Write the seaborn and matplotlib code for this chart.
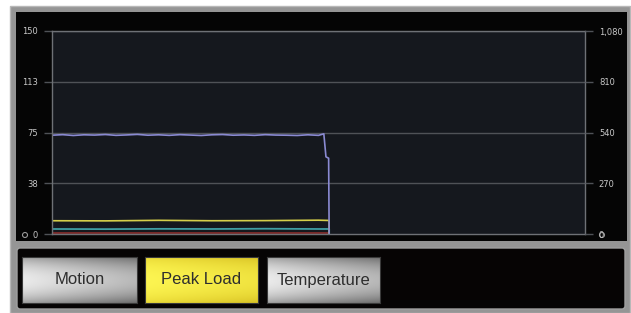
import numpy as np
import pandas as pd
import matplotlib
matplotlib.use('Agg')
import matplotlib.pyplot as plt
import seaborn as sns
from matplotlib.patches import Rectangle, FancyBboxPatch, Circle

# ---- data (x = % of trace window) ----
t_load = [0, 2, 4, 6, 8, 10, 12, 14, 16, 18, 20, 22, 24, 26, 28, 30, 32, 34, 36, 38,
          40, 42, 44, 46, 48, 50, 51.0, 51.4, 51.9, 52.0]
peak_load = [73.0, 73.4, 72.8, 73.3, 73.1, 73.5, 72.9, 73.2, 73.6, 73.0, 73.3, 72.9, 73.4,
             73.1, 72.8, 73.3, 73.5, 73.0, 73.2, 72.9, 73.4, 73.1, 73.0, 72.8, 73.3, 72.9,
             74.0, 57.0, 56.0, 0.0]
t_aux = [0, 10, 20, 30, 40, 50, 52.0, 52.0]
yellow_trace = [9.8, 9.7, 10.1, 9.8, 9.9, 10.2, 10.0, 0.0]
teal_trace = [3.7, 3.6, 3.8, 3.7, 3.9, 3.7, 3.7, 0.0]
red_trace = [0.7, 0.7, 0.7, 0.7, 0.7, 0.7, 0.7, 0.0]

left_ticks = [0, 37.5, 75, 112.5, 150]
left_labels = ['0', '38', '75', '113', '150']
right_ticks = [0, 270, 540, 810, 1080]
right_labels = ['0', '270', '540', '810', '1,080']
buttons = ['Motion', 'Peak Load', 'Temperature']

W, H = 631, 313
fig = plt.figure(figsize=(W / 100, H / 100), dpi=100)
fig.patch.set_facecolor('white')


def px(x0, y0, x1, y1):
    # pixel box -> figure fraction rect
    return [x0 / W, 1 - y1 / H, (x1 - x0) / W, (y1 - y0) / H]


# frame and panels
bg = fig.add_axes([0, 0, 1, 1])
bg.set_xlim(0, W)
bg.set_ylim(H, 0)
bg.axis('off')
bg.add_patch(Rectangle((10, 6), 620, 307, facecolor='#959595', edgecolor='#b8b8b8', lw=1))
bg.add_patch(Rectangle((16, 12), 611, 229, facecolor='#050505', edgecolor='none'))
bg.add_patch(FancyBboxPatch((17, 248), 608, 61, boxstyle='round,pad=0,rounding_size=3',
                            facecolor='#060404', edgecolor='#a0a0a0', lw=1))
for cx in (25, 602):
    bg.add_patch(Circle((cx, 235), 2.5, facecolor='none', edgecolor='#9a9a9a', lw=0.8))

# main chart
ax = fig.add_axes(px(52, 31, 585, 234))
ax.set_facecolor('#15181e')
grid_c = '#4f5257'
for v in left_ticks[1:]:
    ax.axhline(v, color=grid_c, lw=1, zorder=1)

sns.lineplot(x=t_aux, y=red_trace, ax=ax, color='#7a2a2a', lw=1.4, sort=False, estimator=None)
sns.lineplot(x=t_aux, y=teal_trace, ax=ax, color='#3f9ea3', lw=1.3, sort=False, estimator=None)
sns.lineplot(x=t_aux, y=yellow_trace, ax=ax, color='#d6cf4a', lw=1.2, sort=False, estimator=None)
sns.lineplot(x=t_load, y=peak_load, ax=ax, color='#8a8ad2', lw=1.2, sort=False, estimator=None)

ax.set_xlim(0, 100)
ax.set_ylim(0, 150)
ax.set_xticks([])
ax.set_yticks(left_ticks)
ax.set_yticklabels(left_labels)
ax.tick_params(axis='y', colors=grid_c, labelcolor='#c8c8c8', labelsize=6,
               length=6, width=1, pad=4)
for s in ax.spines.values():
    s.set_color('#6e7176')
    s.set_linewidth(1)

ax2 = ax.twinx()
ax2.set_ylim(0, 1080)
ax2.set_yticks(right_ticks)
ax2.set_yticklabels(right_labels)
ax2.tick_params(axis='y', colors=grid_c, labelcolor='#c8c8c8', labelsize=6,
                length=6, width=1, pad=4)
for s in ax2.spines.values():
    s.set_visible(False)

# buttons
btn_boxes = [(22, 257, 137, 303), (145, 257, 258, 303), (267, 257, 380, 303)]
gy = np.linspace(0, 1, 50)[:, None]
gx = np.linspace(0, 1, 100)[None, :]
shade = 1 - 0.3 * (2 * gy - 1) ** 2 - 0.22 * gx
for name, (x0, y0, x1, y1) in zip(buttons, btn_boxes):
    b = fig.add_axes(px(x0, y0, x1, y1))
    if name == 'Peak Load':
        img = np.dstack([0.99 * shade ** 0.2, 0.96 * shade ** 0.3, 0.32 * shade])
    else:
        img = np.dstack([0.92 * shade] * 3)
    b.imshow(np.clip(img, 0, 1), aspect='auto', extent=(0, 1, 0, 1))
    b.set_xticks([])
    b.set_yticks([])
    for s in b.spines.values():
        s.set_color('#3a3a3a')
    b.text(0.5, 0.5, name, ha='center', va='center', fontsize=12, color='#2e2e2e',
           family=['Liberation Sans', 'DejaVu Sans'])

fig.savefig('out.png', dpi=100)
